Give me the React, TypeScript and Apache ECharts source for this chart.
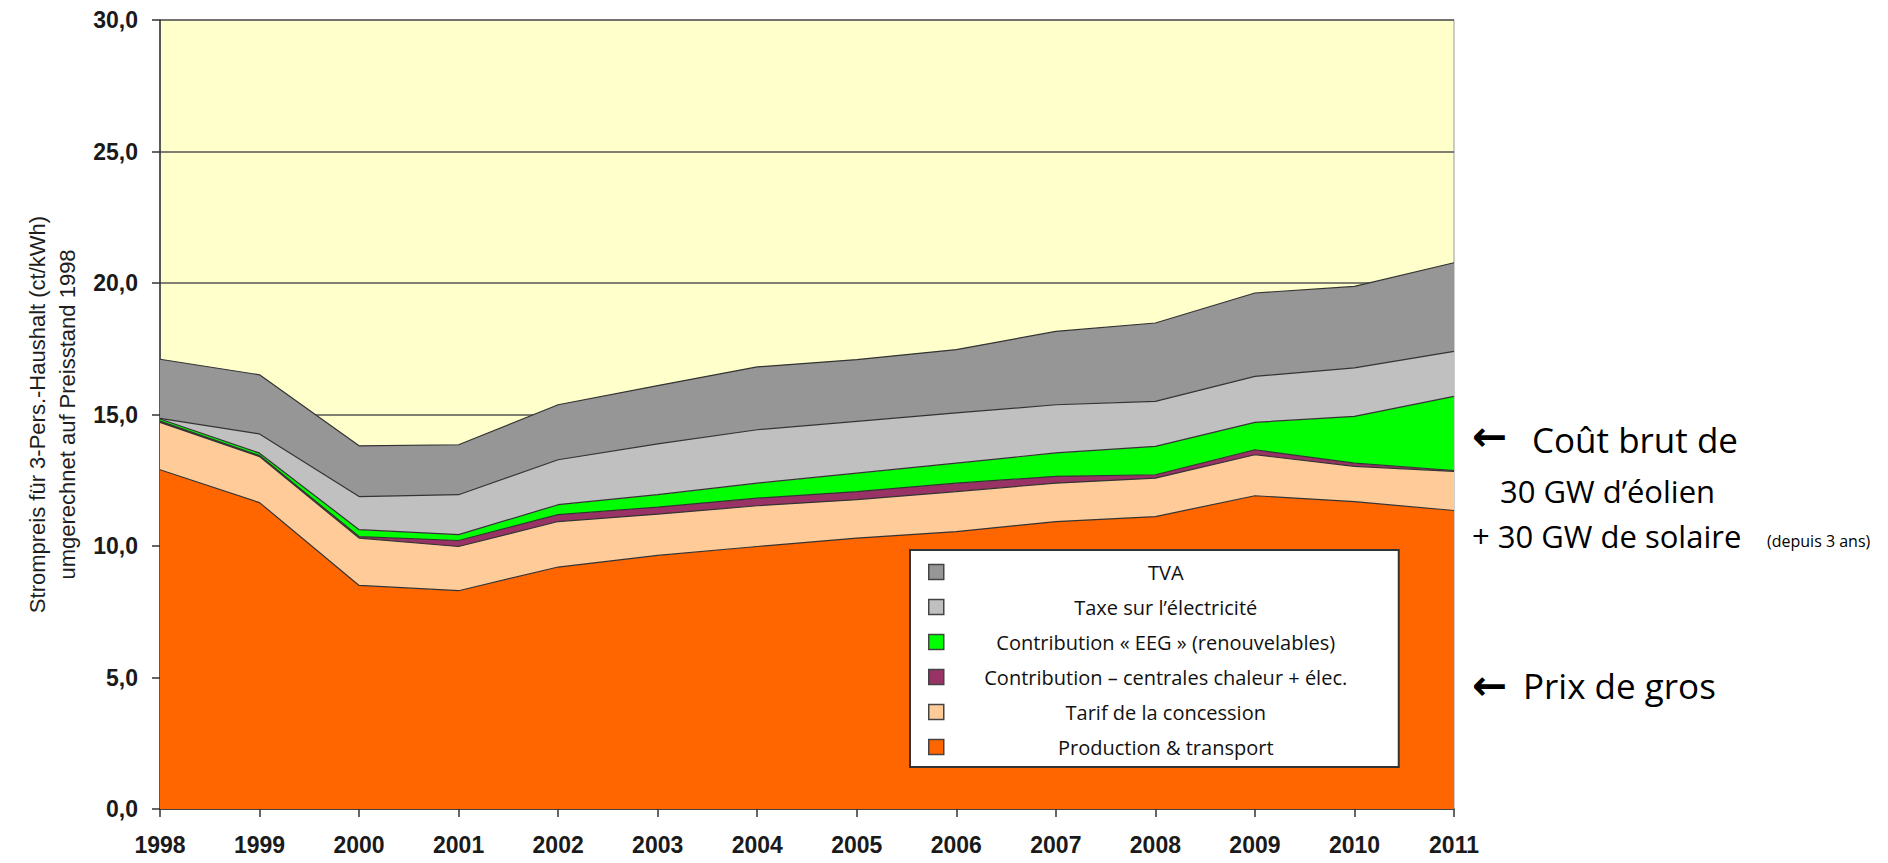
import React, { useEffect, useRef } from 'react';
import * as echarts from 'echarts';

const years = ['1998', '1999', '2000', '2001', '2002', '2003', '2004', '2005', '2006', '2007', '2008', '2009', '2010', '2011'];
const production = [12.9, 11.65, 8.5, 8.3, 9.2, 9.64, 9.98, 10.3, 10.55, 10.93, 11.12, 11.91, 11.69, 11.35];
const concession = [1.8, 1.75, 1.8, 1.68, 1.73, 1.57, 1.55, 1.46, 1.52, 1.46, 1.46, 1.56, 1.34, 1.49];
const kwk = [0.05, 0.04, 0.06, 0.23, 0.26, 0.27, 0.29, 0.31, 0.32, 0.26, 0.13, 0.19, 0.12, 0.03];
const eeg = [0.08, 0.09, 0.26, 0.22, 0.38, 0.47, 0.57, 0.7, 0.76, 0.89, 1.08, 1.04, 1.78, 2.82];
const taxe = [0.02, 0.73, 1.26, 1.52, 1.71, 1.93, 2.03, 1.97, 1.91, 1.83, 1.71, 1.75, 1.84, 1.71];
const tva = [2.25, 2.25, 1.93, 1.9, 2.09, 2.22, 2.39, 2.35, 2.41, 2.79, 2.98, 3.17, 3.1, 3.37];

const seriesNames = [
  'Production & transport',
  'Tarif de la concession',
  'Contribution – centrales chaleur + élec.',
  'Contribution « EEG » (renouvelables)',
  'Taxe sur l’électricité',
  'TVA',
];
const seriesData = [production, concession, kwk, eeg, taxe, tva];
const seriesColors = ['#FF6600', '#FFCC99', '#993366', '#00FF00', '#C0C0C0', '#969696'];

const yAxisTitle = 'Strompreis für 3-Pers.-Haushalt (ct/kWh)\numgerechnet auf Preisstand 1998';
const noteArrow = '←';
const noteLine1 = 'Coût brut de';
const noteLine2 = '30 GW d’éolien';
const noteLine3 = '+ 30 GW de solaire';
const noteSmall = '(depuis 3 ans)';
const noteWholesale = 'Prix de gros';

export default function App() {
  const ref = useRef<HTMLDivElement>(null);
  useEffect(() => {
    if (!ref.current) return;
    const chart = echarts.init(ref.current, undefined, { renderer: 'svg' });
    const annFont = "'Open Sans', sans-serif";
    const arrowFont = "'DejaVu Sans', sans-serif";
    const axisFont = "'Liberation Sans', Arial, sans-serif";
    const option: any = {
      animation: false,
      backgroundColor: '#ffffff',
      grid: {
        left: 160,
        top: 20,
        width: 1294,
        height: 789,
        show: true,
        backgroundColor: '#FFFFCC',
        borderColor: '#9a9a9a',
        borderWidth: 1,
      },
      legend: {
        orient: 'vertical',
        left: 910,
        top: 550,
        padding: [12, 16, 10, 18],
        backgroundColor: '#ffffff',
        borderColor: '#333333',
        borderWidth: 2,
        icon: 'rect',
        itemWidth: 15,
        itemHeight: 15,
        itemGap: 15,
        itemStyle: { borderColor: '#444444', borderWidth: 1.5 },
        data: [...seriesNames].reverse(),
        formatter: (name: string) => `{c|${name}}`,
        textStyle: {
          rich: {
            c: {
              width: 434,
              align: 'center',
              fontSize: 20,
              lineHeight: 22,
              fontFamily: annFont,
              color: '#111111',
            },
          },
        },
      },
      xAxis: {
        type: 'category',
        data: years,
        boundaryGap: false,
        axisLine: { show: true, lineStyle: { color: '#333333', width: 1.5 } },
        axisTick: { show: true, length: 8, lineStyle: { color: '#333333', width: 1.5 } },
        axisLabel: {
          margin: 24,
          fontSize: 23,
          fontWeight: 'bold',
          fontFamily: axisFont,
          color: '#1a1a1a',
        },
        splitLine: { show: false },
      },
      yAxis: {
        type: 'value',
        min: 0,
        max: 30,
        interval: 5,
        name: yAxisTitle,
        nameLocation: 'middle',
        nameRotate: 90,
        nameGap: 70,
        nameTextStyle: {
          fontSize: 22,
          lineHeight: 30,
          fontFamily: axisFont,
          color: '#1e1e1e',
          align: 'center',
        },
        axisLine: { show: true, lineStyle: { color: '#333333', width: 1.5 } },
        axisTick: { show: true, length: 8, lineStyle: { color: '#333333', width: 1.5 } },
        axisLabel: {
          margin: 22,
          fontSize: 23,
          fontWeight: 'bold',
          fontFamily: axisFont,
          color: '#1a1a1a',
          formatter: (v: number) => v.toFixed(1).replace('.', ','),
        },
        splitLine: { show: true, lineStyle: { color: '#555555', width: 1.5 } },
      },
      series: seriesNames.map((name, i) => ({
        name,
        type: 'line',
        stack: 'total',
        data: seriesData[i],
        symbol: 'none',
        smooth: false,
        itemStyle: { color: seriesColors[i] },
        lineStyle: { color: '#333333', width: 1.2 },
        areaStyle: { color: seriesColors[i], opacity: 1 },
        emphasis: { disabled: true },
      })),
      graphic: [
        { type: 'text', x: 1472, y: 436, style: { text: noteArrow, fontSize: 42, fontWeight: 'bold', fontFamily: arrowFont, fill: '#000', textVerticalAlign: 'middle' } },
        { type: 'text', x: 1532, y: 439, style: { text: noteLine1, fontSize: 35, fontFamily: annFont, fill: '#000', textVerticalAlign: 'middle' } },
        { type: 'text', x: 1500, y: 491, style: { text: noteLine2, fontSize: 31, fontFamily: annFont, fill: '#000', textVerticalAlign: 'middle' } },
        { type: 'text', x: 1472, y: 536, style: { text: noteLine3, fontSize: 31, fontFamily: annFont, fill: '#000', textVerticalAlign: 'middle' } },
        { type: 'text', x: 1767, y: 541, style: { text: noteSmall, fontSize: 16, fontFamily: annFont, fill: '#000', textVerticalAlign: 'middle' } },
        { type: 'text', x: 1472, y: 685, style: { text: noteArrow, fontSize: 42, fontWeight: 'bold', fontFamily: arrowFont, fill: '#000', textVerticalAlign: 'middle' } },
        { type: 'text', x: 1523, y: 685, style: { text: noteWholesale, fontSize: 35, fontFamily: annFont, fill: '#000', textVerticalAlign: 'middle' } },
      ],
    };
    chart.setOption(option);
    return () => chart.dispose();
  }, []);
  return (
    <div
      ref={ref}
      style={{ position: 'fixed', left: 0, top: 0, width: 1888, height: 863, background: '#fff' }}
    />
  );
}
